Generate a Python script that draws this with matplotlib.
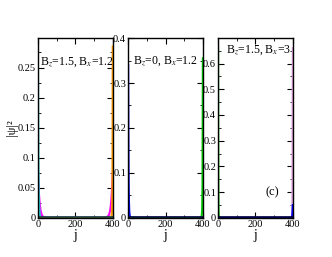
"""Edge-state densities |psi|^2 along the chain, three field settings."""

import matplotlib
matplotlib.use("Agg")
import matplotlib.pyplot as plt
from matplotlib.ticker import MultipleLocator, FuncFormatter

plt.rcParams["font.family"] = ["Liberation Serif", "DejaVu Serif"]
plt.rcParams["mathtext.fontset"] = "stix"

# site index samples (left-edge and right-edge localised states)
j_left = [0, 1, 2, 3, 4, 6, 8, 10, 14, 20, 30, 50, 400]
j_right = [0, 350, 370, 380, 386, 390, 392, 394, 396, 397, 398, 399, 400]

# panel (a): Bz=1.5, Bx=1.2
a_cyan = [0.25, 0.17, 0.11, 0.07, 0.045, 0.02, 0.01, 0.004, 0.001, 0.0003, 0, 0, 0]
a_magenta_l = [0.07, 0.064, 0.058, 0.052, 0.046, 0.036, 0.028, 0.021, 0.012, 0.005, 0.001, 0, 0]
a_violet_l = [0.075, 0.062, 0.05, 0.04, 0.032, 0.021, 0.013, 0.008, 0.003, 0.001, 0, 0, 0]
a_orange = [0, 0, 0, 0, 0, 0.0003, 0.001, 0.004, 0.01, 0.02, 0.045, 0.11, 0.285]
a_magenta_r = [0, 0, 0.001, 0.005, 0.012, 0.021, 0.028, 0.036, 0.046, 0.052, 0.058, 0.066, 0.075]
a_dark = [0.002, 0.002, 0.002, 0.002, 0.002, 0.002, 0.002, 0.002, 0.002, 0.002, 0.002, 0.002, 0.002]

# panel (b): Bz=0, Bx=1.2
b_blue = [0.34, 0.2, 0.12, 0.07, 0.04, 0.015, 0.006, 0.002, 0.0005, 0, 0, 0, 0]
b_green = [0, 0, 0, 0, 0, 0.0005, 0.002, 0.006, 0.015, 0.04, 0.07, 0.2, 0.355]
b_dark = [0.002, 0.002, 0.002, 0.002, 0.002, 0.002, 0.002, 0.002, 0.002, 0.002, 0.002, 0.002, 0.002]

# panel (c): Bz=1.5, Bx=3
c_green = [0.665, 0.25, 0.09, 0.035, 0.012, 0.002, 0.0004, 0, 0, 0, 0, 0, 0]
c_plum = [0, 0, 0, 0, 0, 0, 0.0004, 0.002, 0.012, 0.035, 0.09, 0.38, 0.66]
c_blue = [0, 0, 0, 0, 0, 0, 0.001, 0.002, 0.005, 0.01, 0.02, 0.035, 0.05]
c_dark = [0.002, 0.002, 0.002, 0.002, 0.002, 0.002, 0.002, 0.002, 0.002, 0.002, 0.002, 0.002, 0.002]

titles = [r"B$_z$=1.5, B$_x$=1.2", r"B$_z$=0, B$_x$=1.2", r"B$_z$=1.5, B$_x$=3"]
ylims = [0.299, 0.4, 0.699]
ymajor = [0.05, 0.1, 0.1]

fig = plt.figure(figsize=(3.32, 2.57), dpi=100)
lefts = [0.1145, 0.386, 0.657]
axes = [fig.add_axes([l, 0.152, 0.225, 0.70]) for l in lefts]

ax = axes[0]
ax.plot(j_left, a_violet_l, color="#b060ff", lw=1.5)
ax.plot(j_left, a_magenta_l, color="#ff00ff", lw=1.5)
ax.plot(j_left, a_cyan, color="#20d0d0", lw=1.5)
ax.plot(j_right, a_magenta_r, color="#ff00ff", lw=1.5)
ax.plot(j_right, a_orange, color="#ff9900", lw=1.5)
ax.plot(j_left, a_dark, color="#104040", lw=1.2)

ax = axes[1]
ax.plot(j_left, b_blue, color="#0000ff", lw=1.5)
ax.plot(j_right, b_green, color="#00cc00", lw=1.5)
ax.plot(j_left, b_dark, color="#000040", lw=1.2)

ax = axes[2]
ax.plot(j_left, c_green, color="#33cc33", lw=1.5)
ax.plot(j_right, c_plum, color="#dda0dd", lw=1.5)
ax.plot(j_right, c_blue, color="#0000ff", lw=1.5)
ax.plot(j_left, c_dark, color="#000040", lw=1.2)

fmt = FuncFormatter(lambda v, p: "%g" % round(v, 3))
title_x = [0.03, 0.07, 0.1]
title_y = [0.865, 0.87, 0.93]
for i, ax in enumerate(axes):
    ax.set_xlim(0, 400)
    ax.set_ylim(0, ylims[i])
    ax.xaxis.set_major_locator(MultipleLocator(200))
    ax.xaxis.set_minor_locator(MultipleLocator(100))
    ax.yaxis.set_major_locator(MultipleLocator(ymajor[i]))
    ax.yaxis.set_minor_locator(MultipleLocator(ymajor[i] / 2))
    ax.yaxis.set_major_formatter(fmt)
    ax.tick_params(which="both", direction="in", top=True, right=True,
                   labelsize=7.5, pad=1.5)
    ax.tick_params(which="major", length=4, width=0.8)
    ax.tick_params(which="minor", length=2.5, width=0.6)
    for s in ax.spines.values():
        s.set_linewidth(1.0)
    ax.set_xlabel("j", fontsize=10, labelpad=0)
    ax.text(title_x[i], title_y[i], titles[i], transform=ax.transAxes,
            fontsize=8.5, va="center")

axes[0].set_ylabel("|ψ|²", fontsize=9)
axes[0].yaxis.set_label_coords(-0.27, 0.5)
axes[2].text(0.64, 0.14, "(c)", transform=axes[2].transAxes, fontsize=9,
             va="center")

fig.savefig("out.png", dpi=100)
